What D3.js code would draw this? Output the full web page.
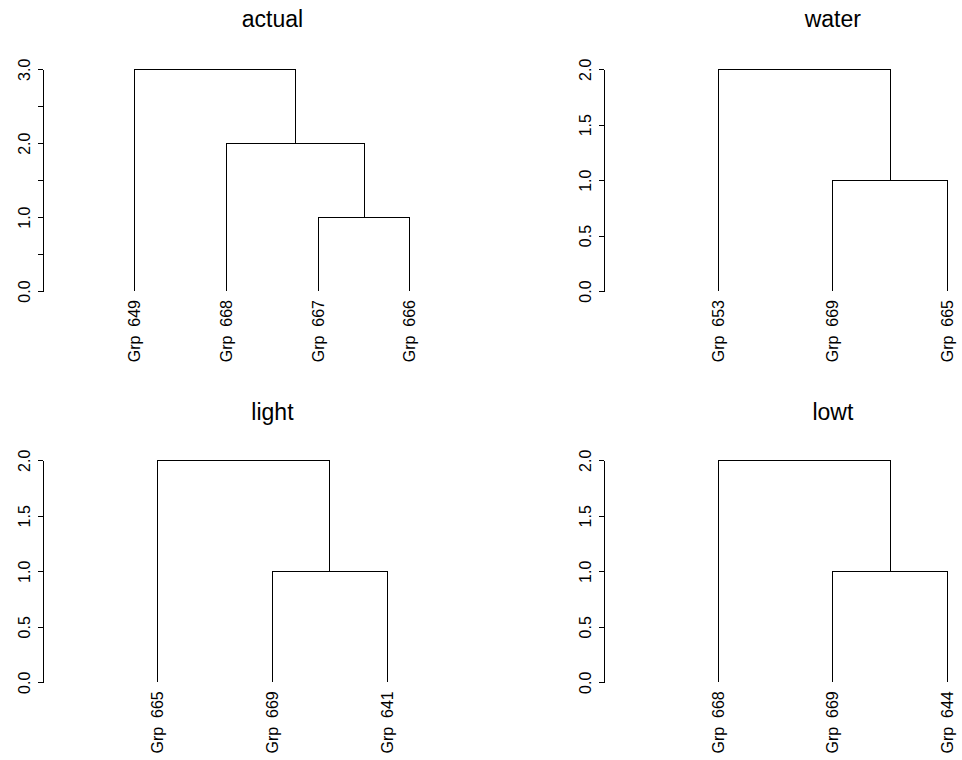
<!DOCTYPE html>
<html>
<head>
<meta charset="utf-8">
<script src="https://cdn.jsdelivr.net/npm/d3@7"></script>
<style>
  body { margin: 0; background: #fff; }
  svg { display: block; font-family: "Liberation Sans", Arial, Helvetica, sans-serif; }
</style>
</head>
<body>
<svg id="chart" width="962" height="760"></svg>
<script>
// panel titles
var titles = ["actual", "water", "light", "lowt"];

// leaf labels, left to right
var actualLabels = ["Grp  649", "Grp  668", "Grp  667", "Grp  666"];
var waterLabels  = ["Grp  653", "Grp  669", "Grp  665"];
var lightLabels  = ["Grp  665", "Grp  669", "Grp  641"];
var lowtLabels   = ["Grp  668", "Grp  669", "Grp  644"];

// hclust style merges: negative = leaf index (1 based), positive = earlier merge
var actualMerge = [[-3, -4], [-2, 1], [-1, 2]];
var waterMerge  = [[-2, -3], [-1, 1]];
var lightMerge  = [[-2, -3], [-1, 1]];
var lowtMerge   = [[-2, -3], [-1, 1]];

// merge heights
var actualHeight = [1, 2, 3];
var waterHeight  = [1, 2];
var lightHeight  = [1, 2];
var lowtHeight   = [1, 2];

// y axis ticks and which ones get a label
var actualTicks = [0, 0.5, 1, 1.5, 2, 2.5, 3];
var actualTickLabels = ["0.0", "", "1.0", "", "2.0", "", "3.0"];
var twoTicks = [0, 0.5, 1, 1.5, 2];
var twoTickLabels = ["0.0", "0.5", "1.0", "1.5", "2.0"];

var panels = [
  {title: titles[0], labels: actualLabels, merge: actualMerge, height: actualHeight, ticks: actualTicks, tickLabels: actualTickLabels, col: 0, row: 0},
  {title: titles[1], labels: waterLabels,  merge: waterMerge,  height: waterHeight,  ticks: twoTicks, tickLabels: twoTickLabels, col: 1, row: 0},
  {title: titles[2], labels: lightLabels,  merge: lightMerge,  height: lightHeight,  ticks: twoTicks, tickLabels: twoTickLabels, col: 0, row: 1},
  {title: titles[3], labels: lowtLabels,   merge: lowtMerge,   height: lowtHeight,   ticks: twoTicks, tickLabels: twoTickLabels, col: 1, row: 1}
];

var axisX = [43.3, 603.7], plotW = 458.3;
var plotTop = [69.3, 460.3], plotBottom = [291, 682.3], titleY = [27, 420];

var svg = d3.select("#chart");

panels.forEach(function(p) {
  var n = p.labels.length;
  var top = d3.max(p.height);
  var x = d3.scaleLinear().domain([0, n + 1]).range([axisX[p.col], axisX[p.col] + plotW]);
  var y = d3.scaleLinear().domain([0, top]).range([plotBottom[p.row], plotTop[p.row]]);

  var g = svg.append("g");

  g.append("text")
    .attr("x", axisX[p.col] + plotW / 2)
    .attr("y", titleY[p.row])
    .attr("text-anchor", "middle")
    .style("font-size", "23px")
    .text(p.title);

  // y axis, R style with rotated labels
  var ax = g.append("g")
    .attr("transform", "translate(" + axisX[p.col] + ",0)")
    .call(d3.axisLeft(y).tickValues(p.ticks).tickSize(5).tickSizeOuter(0)
      .tickFormat(function(d, i) { return p.tickLabels[i]; }));
  ax.attr("font-size", null).attr("font-family", null);
  ax.selectAll("path, line").attr("stroke", "#000").attr("shape-rendering", "crispEdges");
  ax.selectAll("text")
    .attr("transform", "rotate(-90)")
    .attr("x", 0).attr("y", -13).attr("dy", null)
    .attr("text-anchor", "middle")
    .attr("fill", "#000")
    .style("font-size", "16px");

  // positions of leaves and merged nodes
  function pos(k) {
    if (k < 0) return {x: -k, h: 0};
    return nodes[k - 1];
  }
  var nodes = [];
  var segs = [];
  p.merge.forEach(function(m, i) {
    var a = pos(m[0]), b = pos(m[1]), h = p.height[i];
    nodes.push({x: (a.x + b.x) / 2, h: h});
    segs.push([a.x, a.h, a.x, h], [a.x, h, b.x, h], [b.x, b.h, b.x, h]);
  });

  g.selectAll("line.edge")
    .data(segs)
    .enter().append("line")
    .attr("class", "edge")
    .attr("x1", function(d) { return x(d[0]); })
    .attr("y1", function(d) { return y(d[1]); })
    .attr("x2", function(d) { return x(d[2]); })
    .attr("y2", function(d) { return y(d[3]); })
    .attr("stroke", "#000")
    .attr("stroke-width", 1)
    .attr("shape-rendering", "crispEdges");

  g.selectAll("text.leaf")
    .data(p.labels)
    .enter().append("text")
    .attr("class", "leaf")
    .attr("transform", function(d, i) {
      return "translate(" + (x(i + 1) + 5.5) + "," + (y(0) + 9) + ") rotate(-90)";
    })
    .attr("text-anchor", "end")
    .style("font-size", "16px")
    .text(function(d) { return d.replace(/ /g, "\u00a0"); });
});
</script>
</body>
</html>
